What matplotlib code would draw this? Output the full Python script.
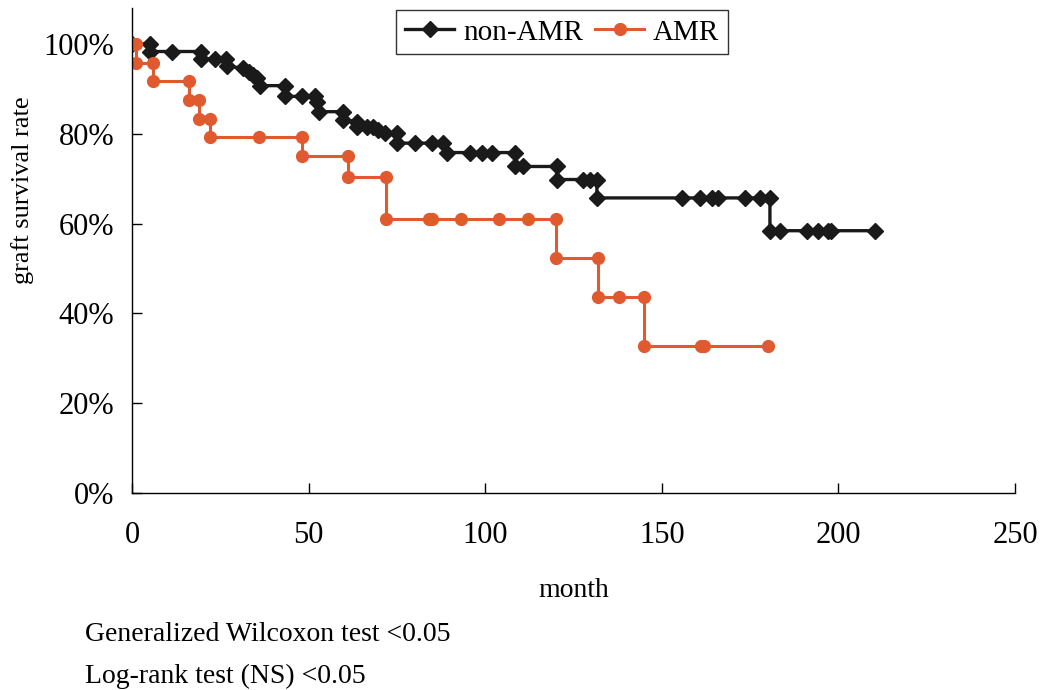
import matplotlib
matplotlib.use("Agg")
import matplotlib.pyplot as plt
from matplotlib.ticker import PercentFormatter

plt.rcParams['font.family'] = ['Liberation Serif', 'DejaVu Serif']

# Kaplan-Meier style points (month, survival %)
nonamr_month = [0, 5, 5, 11.2, 19.5, 19.5, 23.5, 26.5, 27, 31.5, 33, 34.3, 35.3,
                36.2, 43.3, 43.3, 48, 51.8, 52.3, 52.8, 59.8, 59.8, 63.6, 63.6,
                66.4, 68.3, 69.7, 71.6, 74.9, 74.9, 80.1, 84.8, 88.1, 89.1, 95.6,
                99, 102, 108.4, 108.4, 110.8, 120.2, 120.2, 127.8, 129.7, 131.6,
                131.6, 155.6, 160.8, 164.1, 166, 173.6, 177.8, 180.6, 180.6, 183.5,
                191, 194.3, 197.1, 198, 210.4]
nonamr_surv = [100, 100, 98.3, 98.3, 98.3, 96.7, 96.7, 96.7, 95.0, 94.6, 93.8, 93.1, 92.3,
               90.7, 90.7, 88.3, 88.3, 88.3, 87.0, 84.9, 84.9, 83.1, 82.7, 81.6,
               81.6, 81.6, 80.8, 80.1, 80.1, 77.9, 77.9, 77.9, 77.9, 75.8, 75.8,
               75.8, 75.8, 75.8, 72.7, 72.7, 72.7, 69.8, 69.8, 69.8, 69.8,
               65.7, 65.7, 65.7, 65.7, 65.7, 65.7, 65.7, 65.7, 58.4, 58.4,
               58.4, 58.4, 58.4, 58.4, 58.4]

amr_month = [0, 1, 1, 6, 6, 16, 16, 19, 19, 22, 22, 36, 48, 48, 61, 61, 72, 72,
             84, 85, 93, 104, 112, 120, 120, 132, 132, 138, 145, 145, 161, 162, 180]
amr_surv = [100, 100, 95.8, 95.8, 91.7, 91.7, 87.5, 87.5, 83.3, 83.3, 79.2, 79.2, 79.2,
            75.0, 75.0, 70.4, 70.4, 61.1, 61.1, 61.1, 61.1, 61.1, 61.1, 61.1, 52.4,
            52.4, 43.7, 43.7, 43.7, 32.7, 32.7, 32.7, 32.7]

fig = plt.figure(figsize=(10.4, 6.9), dpi=100)
ax = fig.add_axes([0.127, 0.2855, 0.849, 0.703])

ax.plot(nonamr_month, [v / 100 for v in nonamr_surv], color='#1a1a1a', lw=2.4,
        marker='D', markersize=8.5, label='non-AMR')
ax.plot(amr_month, [v / 100 for v in amr_surv], color='#e05a30', lw=2.2,
        marker='o', markersize=8.5, label='AMR')

ax.set_xlim(0, 250)
ax.set_ylim(0, 1.08)
ax.set_xticks([0, 50, 100, 150, 200, 250])
ax.set_yticks([0, 0.2, 0.4, 0.6, 0.8, 1.0])
ax.yaxis.set_major_formatter(PercentFormatter(1.0, decimals=0))
for s in ['top', 'right']:
    ax.spines[s].set_visible(False)
for s in ['left', 'bottom']:
    ax.spines[s].set_linewidth(1.0)
ax.tick_params(axis='both', direction='in', length=7, width=1, labelsize=22)
ax.tick_params(axis='x', pad=20)
ax.tick_params(axis='y', pad=13)

ax.set_xlabel('month', fontsize=20, labelpad=20)
fig.text(0.022, 0.725, 'graft survival rate', fontsize=19, rotation=90,
         ha='center', va='center')

fig.legend(loc='upper center', bbox_to_anchor=(0.5405, 0.985), ncol=2,
           fontsize=21, frameon=True, fancybox=False, edgecolor='black',
           handlelength=1.7, handletextpad=0.3, columnspacing=0.4,
           borderpad=0.3, borderaxespad=0)

fig.text(0.082, 0.08, 'Generalized Wilcoxon test <0.05', fontsize=20, va='center')
fig.text(0.082, 0.019, 'Log-rank test (NS) <0.05', fontsize=20, va='center')

fig.savefig('out.png', dpi=100)
